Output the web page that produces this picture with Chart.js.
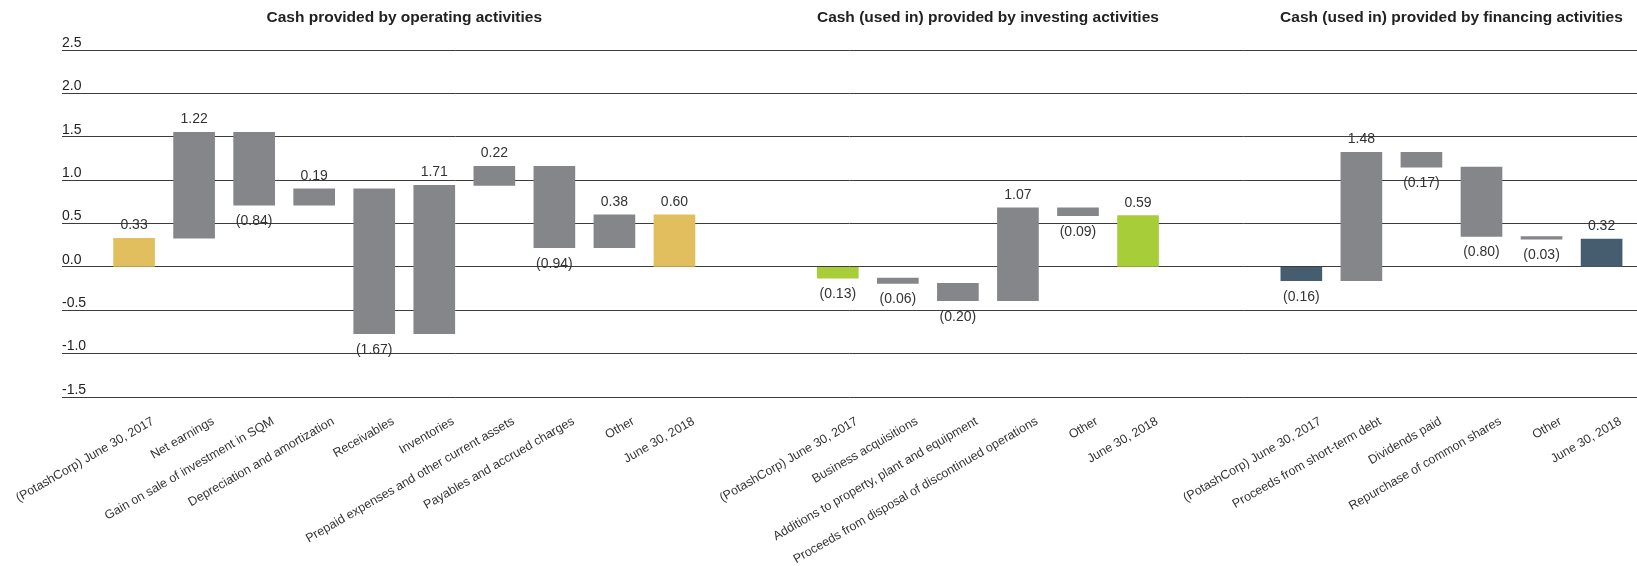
<!DOCTYPE html>
<html>
<head>
<meta charset="utf-8">
<script src="https://cdn.jsdelivr.net/npm/chart.js@4/dist/chart.umd.min.js"></script>
<style>
  html, body { margin: 0; padding: 0; background: #ffffff; }
  #wrap { width: 1637px; height: 566px; }
</style>
</head>
<body>
<div id="wrap"><canvas id="chart" width="1637" height="566"></canvas></div>
<script>
// Cash flow waterfall, US$ billions: first and last value of each group are balances,
// the values in between are changes.
const groupTitles = [
  'Cash provided by operating activities',
  'Cash (used in) provided by investing activities',
  'Cash (used in) provided by financing activities'
];

const operatingLabels = [
  '(PotashCorp) June 30, 2017', 'Net earnings', 'Gain on sale of investment in SQM',
  'Depreciation and amortization', 'Receivables', 'Inventories',
  'Prepaid expenses and other current assets', 'Payables and accrued charges', 'Other', 'June 30, 2018'
];
const operatingValues = [0.33, 1.22, -0.84, 0.19, -1.67, 1.71, 0.22, -0.94, 0.38, 0.60];

const investingLabels = [
  '(PotashCorp) June 30, 2017', 'Business acquisitions', 'Additions to property, plant and equipment',
  'Proceeds from disposal of discontinued operations', 'Other', 'June 30, 2018'
];
const investingValues = [-0.13, -0.06, -0.20, 1.07, -0.09, 0.59];

const financingLabels = [
  '(PotashCorp) June 30, 2017', 'Proceeds from short-term debt', 'Dividends paid',
  'Repurchase of common shares', 'Other', 'June 30, 2018'
];
const financingValues = [-0.16, 1.48, -0.17, -0.80, -0.03, 0.32];

const yTickValues = [-1.5, -1.0, -0.5, 0.0, 0.5, 1.0, 1.5, 2.0, 2.5];

// styling
const balanceColors = ['#E2BF5E', '#A7CE39', '#455D6F'];
const changeColor = '#858689';
const FONT = '"Liberation Sans", Arial, Helvetica, sans-serif';
const GROUP_GAP = 2.72;   // slots between the last bar of a group and the first of the next

const groups = [
  { title: groupTitles[0], labels: operatingLabels, values: operatingValues },
  { title: groupTitles[1], labels: investingLabels, values: investingValues },
  { title: groupTitles[2], labels: financingLabels, values: financingValues }
];

// build floating bars
const points = [], colors = [], tickLabels = [], tickPositions = [], valueOf = [], groupCenters = [];
let slot = 0;
groups.forEach((g, gi) => {
  let running = 0;
  const n = g.values.length;
  g.values.forEach((v, i) => {
    const x = slot + i;
    let range;
    if (i === 0 || i === n - 1) {
      range = [0, v];
      running = v;
      colors.push(balanceColors[gi]);
    } else {
      range = [running, running + v];
      running += v;
      colors.push(changeColor);
    }
    points.push({ x: x, y: range });
    valueOf.push(v);
    tickPositions.push(x);
    tickLabels.push(g.labels[i]);
  });
  groupCenters.push({ title: g.title, x: slot + (n - 1) / 2 });
  slot += n - 1 + GROUP_GAP;
});
const lastSlot = tickPositions[tickPositions.length - 1];

const fmt = v => v < 0 ? '(' + Math.abs(v).toFixed(2) + ')' : v.toFixed(2);

const valueLabels = {
  id: 'valueLabels',
  afterDatasetsDraw(chart) {
    const ctx = chart.ctx;
    const meta = chart.getDatasetMeta(0);
    ctx.save();
    ctx.font = '14px ' + FONT;
    ctx.fillStyle = '#333333';
    ctx.textAlign = 'center';
    ctx.textBaseline = 'middle';
    meta.data.forEach((bar, i) => {
      const p = bar.getProps(['x', 'y', 'base'], true);
      const top = Math.min(p.y, p.base), bottom = Math.max(p.y, p.base);
      const v = valueOf[i];
      if (v >= 0) ctx.fillText(fmt(v), p.x, top - 13);
      else ctx.fillText(fmt(v), p.x, bottom + 16);
    });
    ctx.restore();
  }
};

const groupTitlesPlugin = {
  id: 'groupTitles',
  afterDraw(chart) {
    const ctx = chart.ctx;
    const xs = chart.scales.x;
    ctx.save();
    ctx.font = 'bold 15.5px ' + FONT;
    ctx.fillStyle = '#222222';
    ctx.textAlign = 'center';
    ctx.textBaseline = 'middle';
    groupCenters.forEach(g => ctx.fillText(g.title, xs.getPixelForValue(g.x), 18));
    ctx.restore();
  }
};

new Chart(document.getElementById('chart'), {
  type: 'bar',
  data: {
    datasets: [{
      data: points,
      backgroundColor: colors,
      borderWidth: 0,
      barThickness: 41
    }]
  },
  options: {
    responsive: false,
    animation: false,
    devicePixelRatio: 1,
    layout: { padding: { left: 62, top: 50, right: 0, bottom: 0 } },
    plugins: { legend: { display: false }, tooltip: { enabled: false } },
    scales: {
      x: {
        type: 'linear',
        offset: false,
        min: -1.2,
        max: lastSlot + 0.59,
        grid: { display: false, drawTicks: false },
        border: { display: false },
        afterBuildTicks(scale) { scale.ticks = tickPositions.map(v => ({ value: v })); },
        afterFit(scale) { scale.height = 169; scale.paddingLeft = 0; scale.paddingRight = 0; },
        ticks: {
          autoSkip: false,
          minRotation: 30,
          maxRotation: 30,
          padding: 17,
          labelOffset: 19,
          color: '#333333',
          font: { family: FONT, size: 12.5 },
          callback: (value, index) => tickLabels[index]
        }
      },
      y: {
        min: -1.5,
        max: 2.5,
        afterBuildTicks(scale) { scale.ticks = yTickValues.map(v => ({ value: v })); },
        grid: { color: '#3c3c3c', lineWidth: 1, drawTicks: false },
        border: { display: false },
        ticks: {
          mirror: true,
          padding: 0,
          labelOffset: -7,
          color: '#222222',
          font: { family: FONT, size: 14 },
          callback: v => v.toFixed(1)
        }
      }
    }
  },
  plugins: [valueLabels, groupTitlesPlugin]
});
</script>
</body>
</html>
